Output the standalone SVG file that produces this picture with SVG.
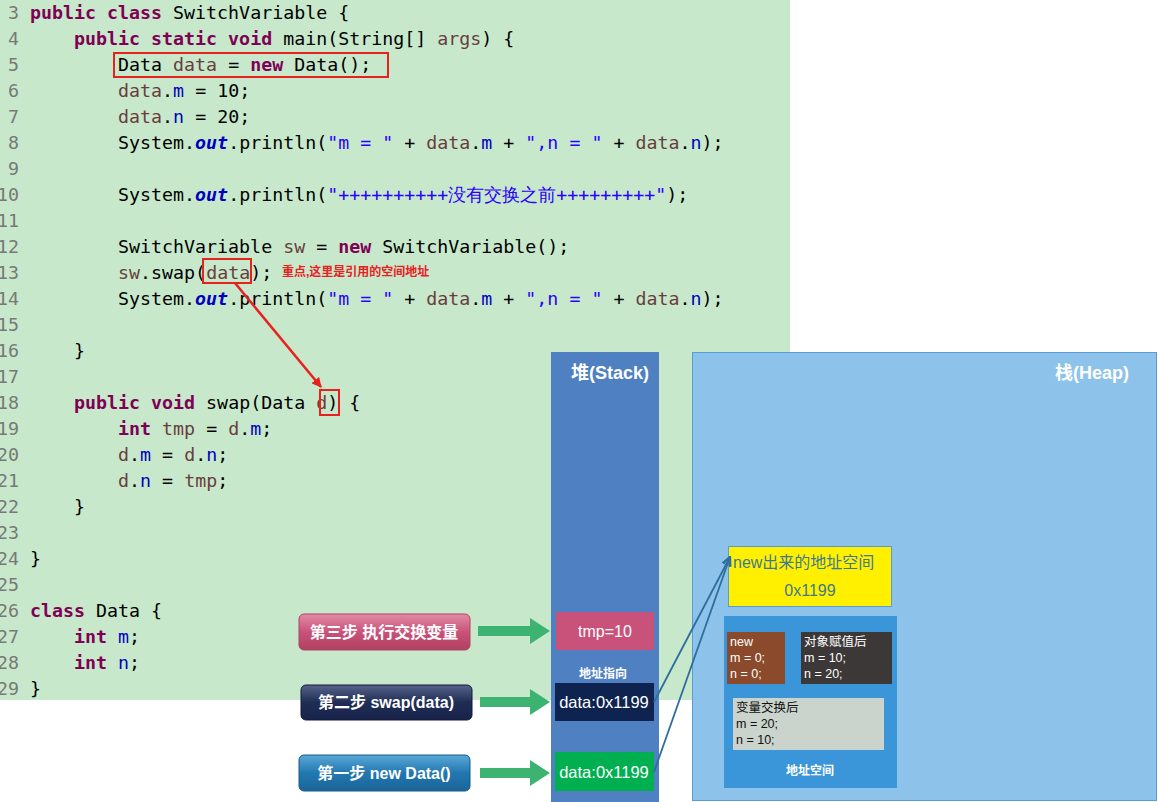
<svg xmlns="http://www.w3.org/2000/svg" width="1158" height="802" viewBox="0 0 1158 802">
<defs>
<style>
.c{font-family:"DejaVu Sans Mono",monospace;font-size:18.3px;fill:#000;white-space:pre}
.ln{font-family:"DejaVu Sans Mono",monospace;font-size:18.3px;fill:#787878;text-anchor:end}
.k{fill:#7F0055;font-weight:bold}
.f{fill:#0000C0}
.v{fill:#6A3E3E}
.o{fill:#0000C0;font-weight:bold;font-style:italic}
.s{fill:#2A00FF}
.w{font-family:"Liberation Sans","Noto Sans CJK SC",sans-serif;fill:#fff}
.t{font-family:"Liberation Sans","Noto Sans CJK SC",sans-serif;font-size:12.5px}
.btn{font-family:"Liberation Sans","Noto Sans CJK SC",sans-serif;font-size:16px;font-weight:bold;fill:#fff;text-anchor:middle}
.red{fill:none;stroke:#E8201E;stroke-width:2}
</style>
<marker id="ra" markerWidth="10" markerHeight="10" refX="9" refY="5" orient="auto" markerUnits="userSpaceOnUse" viewBox="0 0 10 10"><path d="M0,0 L10,5 L0,10 z" fill="#E8201E"/></marker>
<marker id="ba" markerWidth="10" markerHeight="10" refX="9" refY="5" orient="auto" markerUnits="userSpaceOnUse" viewBox="0 0 10 10"><path d="M0,1 L10,5 L0,9" fill="none" stroke="#2E6E9E" stroke-width="1.5"/></marker>
<linearGradient id="gp" x1="0" y1="0" x2="0" y2="1"><stop offset="0" stop-color="#E38AA5"/><stop offset="0.5" stop-color="#C9527A"/><stop offset="1" stop-color="#B0405F"/></linearGradient>
<linearGradient id="gn" x1="0" y1="0" x2="0" y2="1"><stop offset="0" stop-color="#56638A"/><stop offset="0.5" stop-color="#1F2D55"/><stop offset="1" stop-color="#18234A"/></linearGradient>
<linearGradient id="gb" x1="0" y1="0" x2="0" y2="1"><stop offset="0" stop-color="#5AA8D8"/><stop offset="0.5" stop-color="#2277B0"/><stop offset="1" stop-color="#1A6598"/></linearGradient>
</defs>
<rect width="1158" height="802" fill="#fff"/>
<g id="code">
<rect x="0" y="0" width="790" height="700" fill="#C7E8CB"/>
<g class="ln">
<text x="19" y="19">3</text><text x="19" y="45">4</text><text x="19" y="71">5</text><text x="19" y="97">6</text><text x="19" y="123">7</text><text x="19" y="149">8</text><text x="19" y="175">9</text><text x="19" y="201">10</text><text x="19" y="227">11</text><text x="19" y="253">12</text><text x="19" y="279">13</text><text x="19" y="305">14</text><text x="19" y="331">15</text><text x="19" y="357">16</text><text x="19" y="383">17</text><text x="19" y="409">18</text><text x="19" y="435">19</text><text x="19" y="461">20</text><text x="19" y="487">21</text><text x="19" y="513">22</text><text x="19" y="539">23</text><text x="19" y="565">24</text><text x="19" y="591">25</text><text x="19" y="617">26</text><text x="19" y="643">27</text><text x="19" y="669">28</text><text x="19" y="695">29</text>
</g>
<text class="c" x="30" y="19"><tspan class="k">public class</tspan> SwitchVariable {</text>
<text class="c" x="30" y="45">    <tspan class="k">public static void</tspan> main(String[] <tspan class="v">args</tspan>) {</text>
<text class="c" x="30" y="71">        Data <tspan class="v">data</tspan> = <tspan class="k">new</tspan> Data();</text>
<text class="c" x="30" y="97">        <tspan class="v">data</tspan>.<tspan class="f">m</tspan> = 10;</text>
<text class="c" x="30" y="123">        <tspan class="v">data</tspan>.<tspan class="f">n</tspan> = 20;</text>
<text class="c" x="30" y="149">        System.<tspan class="o">out</tspan>.println(<tspan class="s">"m = "</tspan> + <tspan class="v">data</tspan>.<tspan class="f">m</tspan> + <tspan class="s">",n = "</tspan> + <tspan class="v">data</tspan>.<tspan class="f">n</tspan>);</text>
<text class="c" x="30" y="201">        System.<tspan class="o">out</tspan>.println(<tspan class="s">"++++++++++没有交换之前+++++++++"</tspan>);</text>
<text class="c" x="30" y="253">        SwitchVariable <tspan class="v">sw</tspan> = <tspan class="k">new</tspan> SwitchVariable();</text>
<text class="c" x="30" y="279">        <tspan class="v">sw</tspan>.swap(<tspan class="v">data</tspan>);</text>
<text class="c" x="30" y="305">        System.<tspan class="o">out</tspan>.println(<tspan class="s">"m = "</tspan> + <tspan class="v">data</tspan>.<tspan class="f">m</tspan> + <tspan class="s">",n = "</tspan> + <tspan class="v">data</tspan>.<tspan class="f">n</tspan>);</text>
<text class="c" x="30" y="357">    }</text>
<text class="c" x="30" y="409">    <tspan class="k">public void</tspan> swap(Data <tspan class="v">d</tspan>) {</text>
<text class="c" x="30" y="435">        <tspan class="k">int</tspan> <tspan class="v">tmp</tspan> = <tspan class="v">d</tspan>.<tspan class="f">m</tspan>;</text>
<text class="c" x="30" y="461">        <tspan class="v">d</tspan>.<tspan class="f">m</tspan> = <tspan class="v">d</tspan>.<tspan class="f">n</tspan>;</text>
<text class="c" x="30" y="487">        <tspan class="v">d</tspan>.<tspan class="f">n</tspan> = <tspan class="v">tmp</tspan>;</text>
<text class="c" x="30" y="513">    }</text>
<text class="c" x="30" y="565">}</text>
<text class="c" x="30" y="617"><tspan class="k">class</tspan> Data {</text>
<text class="c" x="30" y="643">    <tspan class="k">int</tspan> <tspan class="f">m</tspan>;</text>
<text class="c" x="30" y="669">    <tspan class="k">int</tspan> <tspan class="f">n</tspan>;</text>
<text class="c" x="30" y="695">}</text>
<rect class="red" x="114" y="53" width="274" height="24"/>
<rect class="red" x="203" y="259" width="48" height="24"/>
<rect class="red" x="320" y="390" width="19" height="25"/>
<text x="282" y="276" font-family="'Liberation Sans','Noto Sans CJK SC',sans-serif" font-size="12" font-weight="bold" fill="#E8201E">重点,这里是引用的空间地址</text>
</g>
<g id="stack">
<rect x="551" y="352" width="108" height="450" fill="#4F81C2"/>
<text class="w" x="610" y="379" font-size="18" font-weight="bold" text-anchor="middle">堆(Stack)</text>
</g>
<g id="heap">
<rect x="692.5" y="352.5" width="464" height="448" fill="#8DC3EA" stroke="#5A9BD5"/>
<text class="w" x="1092" y="379" font-size="18" font-weight="bold" text-anchor="middle">栈(Heap)</text>
</g>
<g id="tmp"><rect x="556" y="612" width="98" height="38" fill="#C9527A"/><text class="w" x="605" y="637" font-size="16" text-anchor="middle">tmp=10</text></g>
<text class="w" x="603" y="678" font-size="12" font-weight="bold" text-anchor="middle">地址指向</text>
<g id="ref2"><rect x="555" y="683" width="99" height="38" fill="#0E2350"/><text class="w" x="604" y="708" font-size="16.5" text-anchor="middle">data:0x1199</text></g>
<g id="ref1"><rect x="555" y="752" width="99" height="39" fill="#00B050"/><text class="w" x="604" y="778" font-size="16.5" text-anchor="middle">data:0x1199</text></g>
<g id="addr"><rect x="728.5" y="546.5" width="163" height="60" fill="#FFF000" stroke="#5A9BD5"/>
<text x="733" y="568" font-family="'Liberation Sans','Noto Sans CJK SC',sans-serif" font-size="16" fill="#3F7A8C">new出来的地址空间</text>
<text x="810" y="596" font-family="'Liberation Sans',sans-serif" font-size="16" fill="#3F7A8C" text-anchor="middle">0x1199</text></g>
<g id="space"><rect x="724" y="616" width="173" height="172" fill="#3A96D8"/>
<text class="w" x="810" y="775" font-size="12" font-weight="bold" text-anchor="middle">地址空间</text></g>
<g id="s0"><rect x="727" y="632" width="58" height="52" fill="#8B4A2B"/>
<text class="w t" x="730" y="646">new</text><text class="w t" x="730" y="662">m = 0;</text><text class="w t" x="730" y="678">n = 0;</text></g>
<g id="s1"><rect x="801" y="632" width="91" height="52" fill="#3C3838"/>
<text class="w t" x="804" y="646">对象赋值后</text><text class="w t" x="804" y="662">m = 10;</text><text class="w t" x="804" y="678">n = 20;</text></g>
<g id="s2"><rect x="733" y="698" width="151" height="52" fill="#CAD3CC"/>
<text class="t" x="736" y="712" fill="#111">变量交换后</text><text class="t" x="736" y="728" fill="#111">m = 20;</text><text class="t" x="736" y="744" fill="#111">n = 10;</text></g>
<g id="b3"><rect x="299" y="614" width="171" height="36" rx="5" fill="url(#gp)" stroke="#B04563"/><text class="btn" x="384" y="638">第三步 执行交换变量</text></g>
<g id="b2"><rect x="301" y="685" width="171" height="35" rx="5" fill="url(#gn)" stroke="#101A38"/><text class="btn" x="386" y="708">第二步 swap(data)</text></g>
<g id="b1"><rect x="299" y="755" width="171" height="36" rx="5" fill="url(#gb)" stroke="#145A88"/><text class="btn" x="384" y="779">第一步 new Data()</text></g>
<g id="connectors">
<line x1="235" y1="283" x2="321" y2="387" stroke="#E8201E" stroke-width="2.5" marker-end="url(#ra)"/>
<line x1="654" y1="702" x2="730" y2="557" stroke="#2E6E9E" stroke-width="1.8" marker-end="url(#ba)"/>
<line x1="654" y1="772" x2="730" y2="557" stroke="#2E6E9E" stroke-width="1.8" marker-end="url(#ba)"/>
<path d="M478,626 h52 v-8 l20,13 l-20,13 v-8 h-52 z" fill="#3CB371"/>
<path d="M480,697 h50 v-8 l20,13 l-20,13 v-8 h-50 z" fill="#3CB371"/>
<path d="M480,768 h50 v-8 l20,13 l-20,13 v-8 h-50 z" fill="#3CB371"/>
</g>
</svg>
